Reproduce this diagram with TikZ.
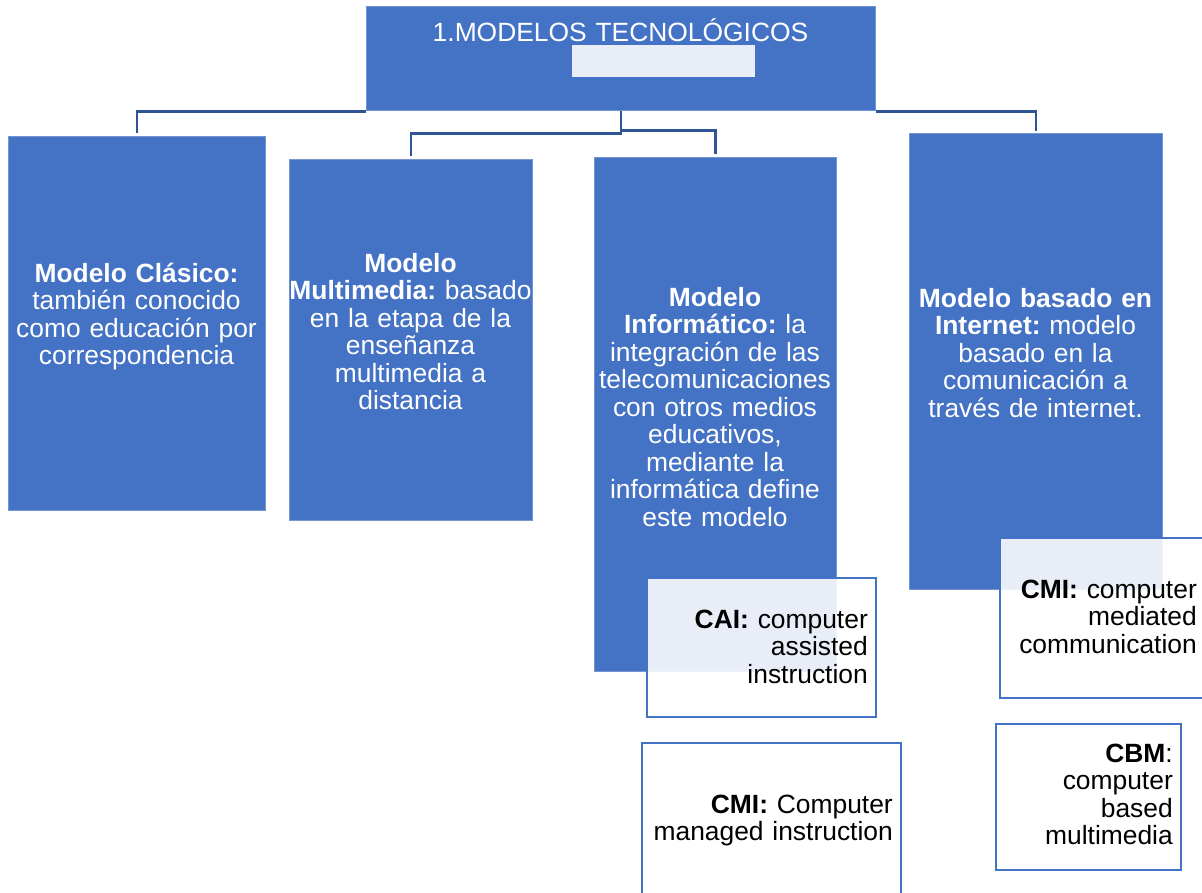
\documentclass[tikz,border=0pt]{standalone}
\usepackage{fontspec}
\setmainfont{Liberation Sans}
\frenchspacing
\definecolor{boxblue}{RGB}{68,114,196}
\definecolor{connblue}{RGB}{47,85,151}
\definecolor{paleblue}{RGB}{233,237,247}
\begin{document}
\begin{tikzpicture}[x=1pt,y=-1pt,
  bluebox/.style={fill=boxblue, draw=boxblue!75!white, line width=0.6pt, inner sep=0pt, anchor=north west},
  whitebox/.style={fill=white, fill opacity=0.88, draw=boxblue, line width=2pt, inner sep=0pt, anchor=north west},
  conn/.style={draw=connblue, line width=2.6pt},
  txt/.style={font=\fontsize{26.4pt}{27.5pt}\selectfont\frenchspacing, inner sep=0pt},
  wtxt/.style={txt, text=white, align=center, anchor=base},
  btxt/.style={txt, text=black, align=right, anchor=base east, text width=260pt},
]
\useasboundingbox (0,0) rectangle (1202,892);
\clip (0,0) rectangle (1202,892);
% main boxes
\node[bluebox, minimum width=509pt, minimum height=104pt] (top) at (366,6) {};
\node[fill=paleblue, minimum width=183pt, minimum height=32pt, inner sep=0pt, anchor=north west] (topinner) at (572,45) {};
\node[wtxt, text width=500pt] (toptxt) at (620.5,41) {1.MODELOS TECNOLÓGICOS};
\node[bluebox, minimum width=257pt, minimum height=374pt] (clasico) at (8,136) {};
\node[bluebox, minimum width=243pt, minimum height=361pt] (multi) at (289,159) {};
\node[bluebox, minimum width=242pt, minimum height=514pt] (info) at (594,157) {};
\node[bluebox, minimum width=253pt, minimum height=456pt] (inet) at (909,133) {};
% connectors
\draw[conn] ([yshift=-1pt]top.south west) -| ([yshift=3pt]clasico.north);
\draw[conn] (top.south) -- ++(0,23) -| ([yshift=3pt]multi.north);
\draw[conn] (top.south) -- ++(0,20) -| ([yshift=3pt]info.north);
\draw[conn] ([yshift=-1pt]top.south east) -| ([yshift=2pt]inet.north);
% texts of main boxes
\node[wtxt, text width=285pt] (clasicotxt) at (136.5,282) {\textbf{Modelo Clásico:}\\también conocido\\como educación por\\correspondencia};
\node[wtxt, text width=285pt] (multitxt) at (410.5,272) {\textbf{Modelo}\\\textbf{Multimedia:} basado\\en la etapa de la\\enseñanza\\multimedia a\\distancia};
\node[wtxt, text width=285pt] (infotxt) at (715,306) {\textbf{Modelo}\\\textbf{Informático:} la\\integración de las\\telecomunicaciones\\con otros medios\\educativos,\\mediante la\\informática define\\este modelo};
\node[wtxt, text width=285pt] (inettxt) at (1035.5,307) {\textbf{Modelo basado en}\\\textbf{Internet:} modelo\\basado en la\\comunicación a\\través de internet.};
% white boxes
\node[whitebox, minimum width=229pt, minimum height=139pt] (cai) at (646,577) {};
\node[whitebox, minimum width=215pt, minimum height=160pt] (cmimed) at (999,537) {};
\node[whitebox, minimum width=185pt, minimum height=146pt] (cbm) at (995,723) {};
\node[whitebox, minimum width=259pt, minimum height=175pt] (cmiman) at (641,742) {};
% texts of white boxes
\node[btxt] (caitxt) at (868,628) {\textbf{CAI:} computer\\assisted\\instruction};
\node[btxt] (cmimedtxt) at (1197,598) {\textbf{CMI:} computer\\mediated\\communication};
\node[btxt] (cbmtxt) at (1173,762) {\textbf{CBM}:\\computer\\based\\multimedia};
\node[btxt] (cmimantxt) at (893,813) {\textbf{CMI:} Computer\\managed instruction};
\end{tikzpicture}
\end{document}
